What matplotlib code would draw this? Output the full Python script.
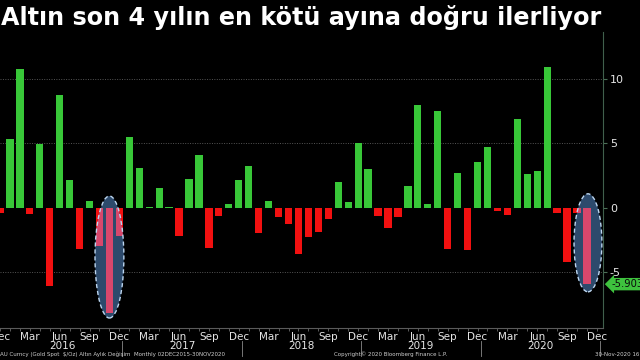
import matplotlib
matplotlib.use("Agg")
import matplotlib.pyplot as plt
import matplotlib.transforms as mtransforms
from matplotlib.patches import Ellipse
import numpy as np
import pandas as pd

# ---- data ----
months = pd.date_range("2015-12-01", periods=60, freq="MS")
values = [
    -0.35,
    5.35, 10.75, -0.45, 4.93, -6.05, 8.76, 2.20, -3.15, 0.52, -2.95, -8.14, -2.17,
    5.50, 3.13, 0.08, 1.52, 0.05, -2.14, 2.24, 4.10, -3.13, -0.60, 0.31, 2.17,
    3.25, -1.96, 0.54, -0.72, -1.27, -3.54, -2.27, -1.86, -0.85, 1.99, 0.47, 5.07,
    3.00, -0.60, -1.58, -0.67, 1.70, 7.96, 0.28, 7.54, -3.15, 2.74, -3.26, 3.60,
    4.75, -0.23, -0.54, 6.93, 2.60, 2.90, 10.90, -0.39, -4.16, -0.40, -5.9037,
]
y_ticks = [-5, 0, 5, 10]
years = [2016, 2017, 2018, 2019, 2020]
last_label = "-5.9037"
title = "Altın son 4 yılın en kötü ayına doğru ilerliyor"
footer_left = "AU Curncy (Gold Spot  $/Oz) Altın Aylık Değişim  Monthly 02DEC2015-30NOV2020"
footer_mid = "Copyright© 2020 Bloomberg Finance L.P."
footer_right = "30-Nov-2020 16:02:31"

# ---- style ----
GREEN = "#38c738"
RED = "#f21010"
PINK = "#d8476c"
NAVY = "#2d4a6c"
TXT = "#e6e6e6"

fig = plt.figure(figsize=(6.4, 3.6), dpi=100, facecolor="black")
ax = fig.add_axes([0.0, 0.089, 0.942, 0.822])
ax.set_facecolor("black")

x = np.arange(len(values))
colors = [GREEN if v >= 0 else RED for v in values]
ax.bar(x, values, width=0.73, color=colors, zorder=2)

# highlighted regions (Nov 2016, Nov 2020)
highlights = [(11.0, -3.8, 2.9, 9.46), (59.1, -2.7, 2.8, 7.6)]
for cx, cy, w, h in highlights:
    e = Ellipse((cx, cy), w, h, facecolor=NAVY, edgecolor="none", zorder=3)
    ax.add_patch(e)
    idx = [i for i in x if abs(i - cx) < w / 2 + 1]
    pb = ax.bar([x[i] for i in idx], [values[i] for i in idx], width=0.73,
                color=PINK, zorder=4)
    for r in pb:
        r.set_clip_path(e)
    ax.add_patch(Ellipse((cx, cy), w, h, facecolor="none", edgecolor="#bcd6f0",
                         lw=1.0, linestyle=(0, (3, 2)), zorder=5))

ax.set_xlim(0.3, 60.6)
ax.set_ylim(-9.3, 13.64)

# grid
for t in y_ticks:
    if t != 0:
        ax.axhline(t, color="#555555", lw=0.7, linestyle=(0, (1, 1.5)), zorder=1)

# y axis on right
ax.yaxis.tick_right()
ax.set_yticks(y_ticks)
ax.set_yticklabels([str(t) for t in y_ticks])
ax.tick_params(axis="y", colors="#4c7058", labelcolor=TXT, labelsize=8,
               length=3, width=0.8, pad=2)
for s in ["left", "top"]:
    ax.spines[s].set_visible(False)
ax.spines["right"].set_color("#40604c")
ax.spines["bottom"].set_color("#5a5a5a")

# x axis month labels
xt = list(range(0, 61, 3))
all_months = pd.date_range(months[0], periods=61, freq="MS")
ax.set_xticks(xt)
ax.set_xticklabels([all_months[i].strftime("%b") for i in xt])
ax.set_xticks(range(0, 61), minor=True)
ax.tick_params(axis="x", which="both", colors="#6a6a6a", labelcolor=TXT,
               labelsize=7.5, length=2, width=0.6, pad=1)

# year labels and separators
bt = mtransforms.blended_transform_factory(ax.transData, ax.transAxes)
for yr in years:
    pos = list(all_months).index(pd.Timestamp(f"{yr}-06-01"))
    ax.text(pos + 0.3, -0.044, str(yr), transform=bt, ha="center", va="top",
            color=TXT, fontsize=7.5)
    dpos = list(all_months).index(pd.Timestamp(f"{yr}-12-01"))
    ax.plot([dpos + 0.3, dpos + 0.3], [-0.045, -0.095], transform=bt,
            color="#8a8a8a", lw=0.6, clip_on=False)

# last value label
bt2 = mtransforms.blended_transform_factory(ax.transAxes, ax.transData)
ax.text(1.014, values[-1], last_label, transform=bt2, ha="left", va="center",
        color="#0a0a0a", fontsize=7.2,
        bbox=dict(boxstyle="larrow,pad=0.12", facecolor="#3ec23e",
                  edgecolor="none"))

# title and footer
fig.text(0.002, 0.952, title, color="white", fontsize=17.2, fontweight="bold",
         family="DejaVu Sans", ha="left", va="center")
fig.text(0.0, 0.01, footer_left, color="#cfcfcf", fontsize=4.0, ha="left")
fig.text(0.61, 0.01, footer_mid, color="#cfcfcf", fontsize=4.0, ha="center")
fig.text(0.93, 0.01, footer_right, color="#cfcfcf", fontsize=4.0, ha="left")

fig.savefig("out.png", dpi=100, facecolor="black")
